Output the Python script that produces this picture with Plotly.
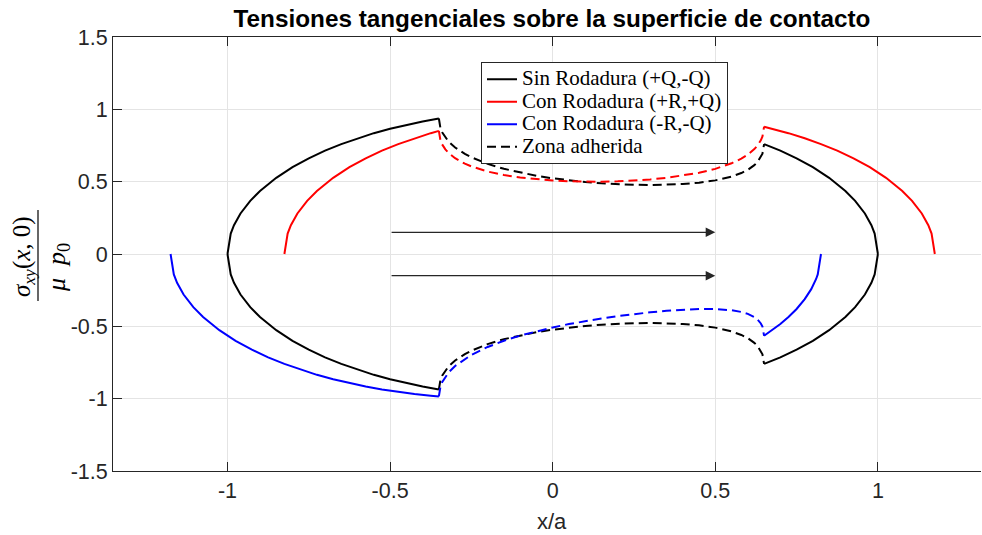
import plotly.graph_objects as go

# ---------------- data ----------------
# Sin Rodadura (+Q,-Q): slip zones
x_black_left = [-1.0, -0.99, -0.98, -0.96, -0.93, -0.9, -0.85, -0.8, -0.75, -0.7, -0.65, -0.6, -0.55, -0.5, -0.45, -0.4, -0.35]
y_black_left_up = [0, 0.1411, 0.199, 0.28, 0.3676, 0.4359, 0.5268, 0.6, 0.6614, 0.7141, 0.7599, 0.8, 0.8352, 0.866, 0.893, 0.9165, 0.9367]
y_black_left_dn = [0, -0.1411, -0.199, -0.28, -0.3676, -0.4359, -0.5268, -0.6, -0.6614, -0.7141, -0.7599, -0.8, -0.8352, -0.866, -0.893, -0.9165, -0.9367]
x_black_right = [0.65, 0.7, 0.75, 0.8, 0.85, 0.9, 0.93, 0.96, 0.98, 0.99, 1.0]
y_black_right_up = [0.7599, 0.7141, 0.6614, 0.6, 0.5268, 0.4359, 0.3676, 0.28, 0.199, 0.1411, 0]
y_black_right_dn = [-0.7599, -0.7141, -0.6614, -0.6, -0.5268, -0.4359, -0.3676, -0.28, -0.199, -0.1411, 0]

# Con Rodadura (+R,+Q): slip zones
x_red_left = [-0.825, -0.815, -0.805, -0.785, -0.755, -0.725, -0.675, -0.625, -0.575, -0.525, -0.475, -0.425, -0.375, -0.35]
y_red_left = [0, 0.1411, 0.199, 0.28, 0.3676, 0.4359, 0.5268, 0.6, 0.6614, 0.7141, 0.7599, 0.8, 0.8352, 0.8511]
x_red_right = [0.65, 0.675, 0.725, 0.775, 0.825, 0.875, 0.925, 0.975, 1.025, 1.075, 1.105, 1.135, 1.155, 1.165, 1.175]
y_red_right = [0.88, 0.866, 0.8352, 0.8, 0.7599, 0.7141, 0.6614, 0.6, 0.5268, 0.4359, 0.3676, 0.28, 0.199, 0.1411, 0]

# Con Rodadura (-R,-Q): slip zones
x_blue_left = [-1.175, -1.165, -1.155, -1.135, -1.105, -1.075, -1.025, -0.975, -0.925, -0.875, -0.825, -0.775, -0.725, -0.675, -0.625, -0.575, -0.525, -0.475, -0.425, -0.375, -0.35]
y_blue_left = [0, -0.1411, -0.199, -0.28, -0.3676, -0.4359, -0.5268, -0.6, -0.6614, -0.7141, -0.7599, -0.8, -0.8352, -0.866, -0.893, -0.9165, -0.9367, -0.9539, -0.9682, -0.9798, -0.9846]
x_blue_right = [0.65, 0.675, 0.7, 0.725, 0.75, 0.775, 0.795, 0.81, 0.815, 0.825]
y_blue_right = [-0.5651, -0.5268, -0.4841, -0.4359, -0.38, -0.3122, -0.2431, -0.1726, -0.1411, 0]

# Zona adherida (stick zone, dashed)
x_stick = [-0.35, -0.345, -0.34, -0.33, -0.32, -0.3, -0.27, -0.25, -0.2, -0.15, -0.1, -0.05, 0, 0.05, 0.1, 0.15,
           0.2, 0.25, 0.3, 0.35, 0.4, 0.45, 0.5, 0.55, 0.58, 0.6, 0.62, 0.63, 0.64, 0.645, 0.65]
y_stick_black_up = [0.9367, 0.8681, 0.8409, 0.804, 0.7768, 0.736, 0.6916, 0.6682, 0.6227, 0.5887, 0.562, 0.5404, 0.523, 0.5088, 0.4975, 0.4887,
                    0.4823, 0.4783, 0.4769, 0.4784, 0.4835, 0.493, 0.5089, 0.5352, 0.5595, 0.5821, 0.614, 0.6366, 0.6689, 0.6937, 0.7599]
y_stick_black_dn = [-0.9367, -0.8681, -0.8409, -0.804, -0.7768, -0.736, -0.6916, -0.6682, -0.6227, -0.5887, -0.562, -0.5404, -0.523, -0.5088, -0.4975, -0.4887,
                    -0.4823, -0.4783, -0.4769, -0.4784, -0.4835, -0.493, -0.5089, -0.5352, -0.5595, -0.5821, -0.614, -0.6366, -0.6689, -0.6937, -0.7599]
y_stick_red = [0.8511, 0.7837, 0.7577, 0.7231, 0.6983, 0.6621, 0.6242, 0.6052, 0.5699, 0.5457, 0.5284, 0.5161, 0.5076, 0.5023, 0.4997, 0.4997,
               0.5022, 0.5073, 0.5152, 0.5263, 0.5414, 0.5614, 0.5886, 0.627, 0.6592, 0.6873, 0.7249, 0.7505, 0.7858, 0.8122, 0.88]
y_stick_blue = [-0.9846, -0.9149, -0.8868, -0.8479, -0.8188, -0.7743, -0.7242, -0.6972, -0.6426, -0.5997, -0.5642, -0.5339, -0.5076, -0.4845, -0.4639, -0.4457,
                -0.4295, -0.4153, -0.403, -0.3928, -0.3852, -0.3806, -0.3807, -0.3888, -0.4006, -0.4141, -0.436, -0.4533, -0.48, -0.5019, -0.5651]

# rolling-direction arrows
arrow_y = [0.15, -0.15]
arrow_x_start = -0.5
arrow_x_end = 0.5

x_tick_vals = [-1, -0.5, 0, 0.5, 1]
x_tick_text = ["-1", "-0.5", "0", "0.5", "1"]
y_tick_vals = [-1.5, -1, -0.5, 0, 0.5, 1, 1.5]
y_tick_text = ["-1.5", "-1", "-0.5", "0", "0.5", "1", "1.5"]

legend_names = ["Sin Rodadura (+Q,-Q)", "Con Rodadura (+R,+Q)", "Con Rodadura (-R,-Q)", "Zona adherida"]

# ---------------- figure ----------------
LW = 2
DASH = "9px,5px"
BLACK, RED, BLUE = "#000000", "#ff0000", "#0000ff"


def leg(t):
    return '<span style="font-size:21px">' + t + '</span>'


fig = go.Figure()


def add(x, y, color, dash=None, name=None, rank=None):
    fig.add_trace(go.Scatter(
        x=x, y=y, mode="lines",
        line=dict(color=color, width=LW, dash=dash if dash else "solid"),
        name=leg(name) if name else "",
        showlegend=name is not None,
        legendrank=rank if rank else 1000,
        hoverinfo="skip",
    ))


add(x_black_left, y_black_left_up, BLACK, name=legend_names[0], rank=1)
add(x_black_right, y_black_right_up, BLACK)
add(x_black_left, y_black_left_dn, BLACK)
add(x_black_right, y_black_right_dn, BLACK)
add(x_stick, y_stick_black_up, BLACK, DASH, name=legend_names[3], rank=4)
add(x_stick, y_stick_black_dn, BLACK, DASH)

add(x_red_left, y_red_left, RED, name=legend_names[1], rank=2)
add(x_red_right, y_red_right, RED)
add(x_stick, y_stick_red, RED, DASH)

add(x_blue_left, y_blue_left, BLUE, name=legend_names[2], rank=3)
add(x_blue_right, y_blue_right, BLUE)
add(x_stick, y_stick_blue, BLUE, DASH)

for ay in arrow_y:
    fig.add_annotation(x=arrow_x_end, y=ay, ax=arrow_x_start, ay=ay,
                       xref="x", yref="y", axref="x", ayref="y",
                       showarrow=True, arrowhead=2, arrowsize=1.6, arrowwidth=1.2,
                       arrowcolor="#262626", standoff=0, text="")

AX = "#262626"
TICKFONT = dict(family="Liberation Sans, Arial, sans-serif", size=21.5, color=AX)

fig.update_xaxes(range=[-1.352, 1.317], tickvals=x_tick_vals, ticktext=x_tick_text,
                 showgrid=True, gridcolor="#e4e4e4", gridwidth=1,
                 zeroline=False, showline=True, linecolor=AX, linewidth=1,
                 mirror="ticks", ticks="inside", ticklen=9, tickcolor=AX, tickwidth=1,
                 tickfont=TICKFONT, automargin=False)
fig.update_yaxes(range=[-1.5, 1.5], tickvals=y_tick_vals, ticktext=y_tick_text,
                 showgrid=True, gridcolor="#e4e4e4", gridwidth=1,
                 zeroline=False, showline=True, linecolor=AX, linewidth=1,
                 mirror=False, ticks="inside", ticklen=9, tickcolor=AX, tickwidth=1,
                 tickfont=TICKFONT, automargin=False)

W, H = 982, 535
L, R, T, B = 113, 1, 37, 64
pw, ph = W - L - R, H - T - B


def px(xp):
    return (xp - L) / pw


def py(yp):
    return (H - B - yp) / ph


# x label
fig.add_annotation(text="x/a", xref="paper", yref="paper", x=px(552), y=py(521),
                   xanchor="center", yanchor="middle", showarrow=False,
                   font=dict(family="Liberation Sans, Arial, sans-serif", size=22, color=AX))

# y label as a fraction sigma_xy(x,0) / (mu p0)
SERIF = "Liberation Serif, Times New Roman, serif"
fig.add_annotation(text="<i>σ</i><sub><i>xy</i></sub>(<i>x</i>,<i> </i>0)", xref="paper", yref="paper",
                   x=px(23), y=py(257), xanchor="center", yanchor="middle", textangle=-90,
                   showarrow=False, font=dict(family=SERIF, size=25, color="#000000"))
fig.add_annotation(text="<i>μ</i>  <i>p</i><sub>0</sub>", xref="paper", yref="paper",
                   x=px(58), y=py(268), xanchor="center", yanchor="middle", textangle=-90,
                   showarrow=False, font=dict(family=SERIF, size=26, color="#000000"))
fig.add_shape(type="line", xref="paper", yref="paper", x0=px(38), x1=px(38), y0=py(301), y1=py(210),
              line=dict(color="#000000", width=1.2))

fig.update_layout(
    width=W, height=H,
    margin=dict(l=L, r=R, t=T, b=B, pad=0, autoexpand=False),
    paper_bgcolor="white", plot_bgcolor="white",
    title=dict(text="<b>Tensiones tangenciales sobre la superficie de contacto</b>",
               xref="paper", x=px(552), xanchor="center",
               yref="container", y=1 - 18 / H, yanchor="middle",
               font=dict(family="Liberation Sans, Arial, sans-serif", size=24.3, color="#000000")),
    legend=dict(x=px(481), y=py(62), xanchor="left", yanchor="top",
                bgcolor="white", bordercolor=AX, borderwidth=1,
                font=dict(family=SERIF, size=15, color="#000000"),
                traceorder="normal"),
    showlegend=True,
)

fig.write_html("out.html",
               config={"displayModeBar": False},
               post_script="document.body.style.margin='0px';document.body.style.overflow='hidden';")
